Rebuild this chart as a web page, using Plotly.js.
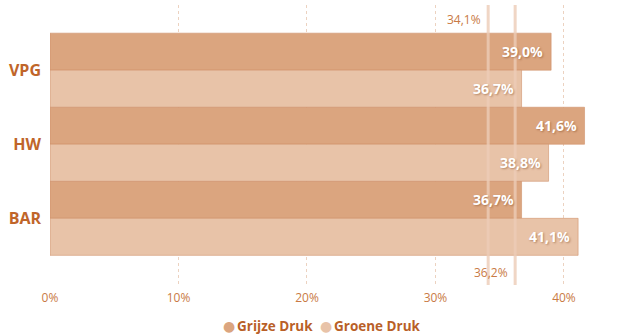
<!DOCTYPE html>
<html>
<head>
<meta charset="utf-8">
<script src="https://cdn.plot.ly/plotly-3.0.1.min.js"></script>
<style>html,body{margin:0;padding:0;background:#fff;}#chart{width:644px;height:335px;}</style>
</head>
<body>
<div id="chart"></div>
<script>
const categories = ['VPG', 'HW', 'BAR'];
const seriesNames = ['Grijze Druk', 'Groene Druk'];
const grijzeDruk = [39.0, 41.6, 36.7];
const groeneDruk = [36.7, 38.8, 41.1];
const refValues = [34.1, 36.2];
const refLabels = ['34,1%', '36,2%'];
const xTickVals = [0, 10, 20, 30, 40];
const xTickText = ['0%', '10%', '20%', '30%', '40%'];

const colors = ['#dba57f', '#e8c3a8'];
const fmt = v => v.toFixed(1).replace('.', ',') + '%';
const FONT = 'Open Sans, Noto Sans, sans-serif';

function barTrace(name, vals, color) {
  return {
    type: 'bar', orientation: 'h', name: name,
    y: categories, x: vals,
    marker: {color: color, line: {color: 'rgba(205,140,100,0.55)', width: 1}},
    showlegend: false, hoverinfo: 'skip'
  };
}

const series = [grijzeDruk, groeneDruk];
const data = series.map((vals, i) => barTrace(seriesNames[i], vals, colors[i]));

const shapes = refValues.map(v => ({
  type: 'line', xref: 'x', yref: 'paper', x0: v, x1: v, y0: 0, y1: 1.0,
  line: {color: 'rgba(236,204,182,0.8)', width: 3}, layer: 'above'
}));

const annotations = [];
// value labels at bar ends (drawn as annotations so they sit above the reference lines)
series.forEach((vals, s) => {
  vals.forEach((v, i) => {
    annotations.push({
      xref: 'x', yref: 'y', x: v, y: i + (s === 0 ? -0.25 : 0.25),
      text: fmt(v), showarrow: false, xanchor: 'right', yanchor: 'middle', xshift: -6,
      font: {family: FONT, size: 14, color: '#ffffff', weight: 700, shadow: '1px 1px 2px rgba(120,60,20,0.45)'}
    });
  });
});
// reference line labels
annotations.push(
  {xref: 'x', yref: 'paper', x: refValues[0], y: 0.95, text: refLabels[0], showarrow: false, xanchor: 'right', yanchor: 'middle', xshift: -5,
   font: {family: FONT, size: 12, color: '#c97a45'}},
  {xref: 'x', yref: 'paper', x: refValues[1], y: 0.045, text: refLabels[1], showarrow: false, xanchor: 'right', yanchor: 'middle', xshift: -5,
   font: {family: FONT, size: 12, color: '#c97a45'}}
);
// legend (circle + bold name per series)
const legendCircleX = [0.314, 0.4842];
const legendTextX = [0.3246, 0.4947];
seriesNames.forEach((name, i) => {
  annotations.push({
    xref: 'paper', yref: 'paper', x: legendCircleX[i], y: -0.146, xanchor: 'center', yanchor: 'middle', showarrow: false,
    text: '●', font: {family: 'DejaVu Sans, sans-serif', size: 14, color: colors[i]}
  });
  annotations.push({
    xref: 'paper', yref: 'paper', x: legendTextX[i], y: -0.146, xanchor: 'left', yanchor: 'middle', showarrow: false,
    text: '<b>' + name + '</b>', font: {family: FONT, size: 13.5, color: '#b95f28'}
  });
});

const layout = {
  width: 644, height: 335,
  margin: {l: 50, r: 24, t: 5, b: 50, autoexpand: false},
  paper_bgcolor: '#ffffff', plot_bgcolor: '#ffffff',
  barmode: 'group', bargap: 0, bargroupgap: 0,
  font: {family: FONT},
  showlegend: false,
  xaxis: {
    range: [0, 44.36], tickvals: xTickVals, ticktext: xTickText,
    showgrid: true, gridcolor: '#ecd2c0', griddash: 'dot', gridwidth: 1,
    zeroline: false, showline: false,
    tickfont: {size: 12, color: '#c97a45'}, ticks: '', ticklabelstandoff: 4
  },
  yaxis: {
    type: 'category', range: [2.9, -0.88],
    showgrid: false, zeroline: false, showline: false, ticks: '',
    tickfont: {size: 16, color: '#c0652a', weight: 700}, ticklabelstandoff: 8
  },
  shapes: shapes,
  annotations: annotations
};

Plotly.newPlot('chart', data, layout, {displayModeBar: false, staticPlot: true});
</script>
</body>
</html>
